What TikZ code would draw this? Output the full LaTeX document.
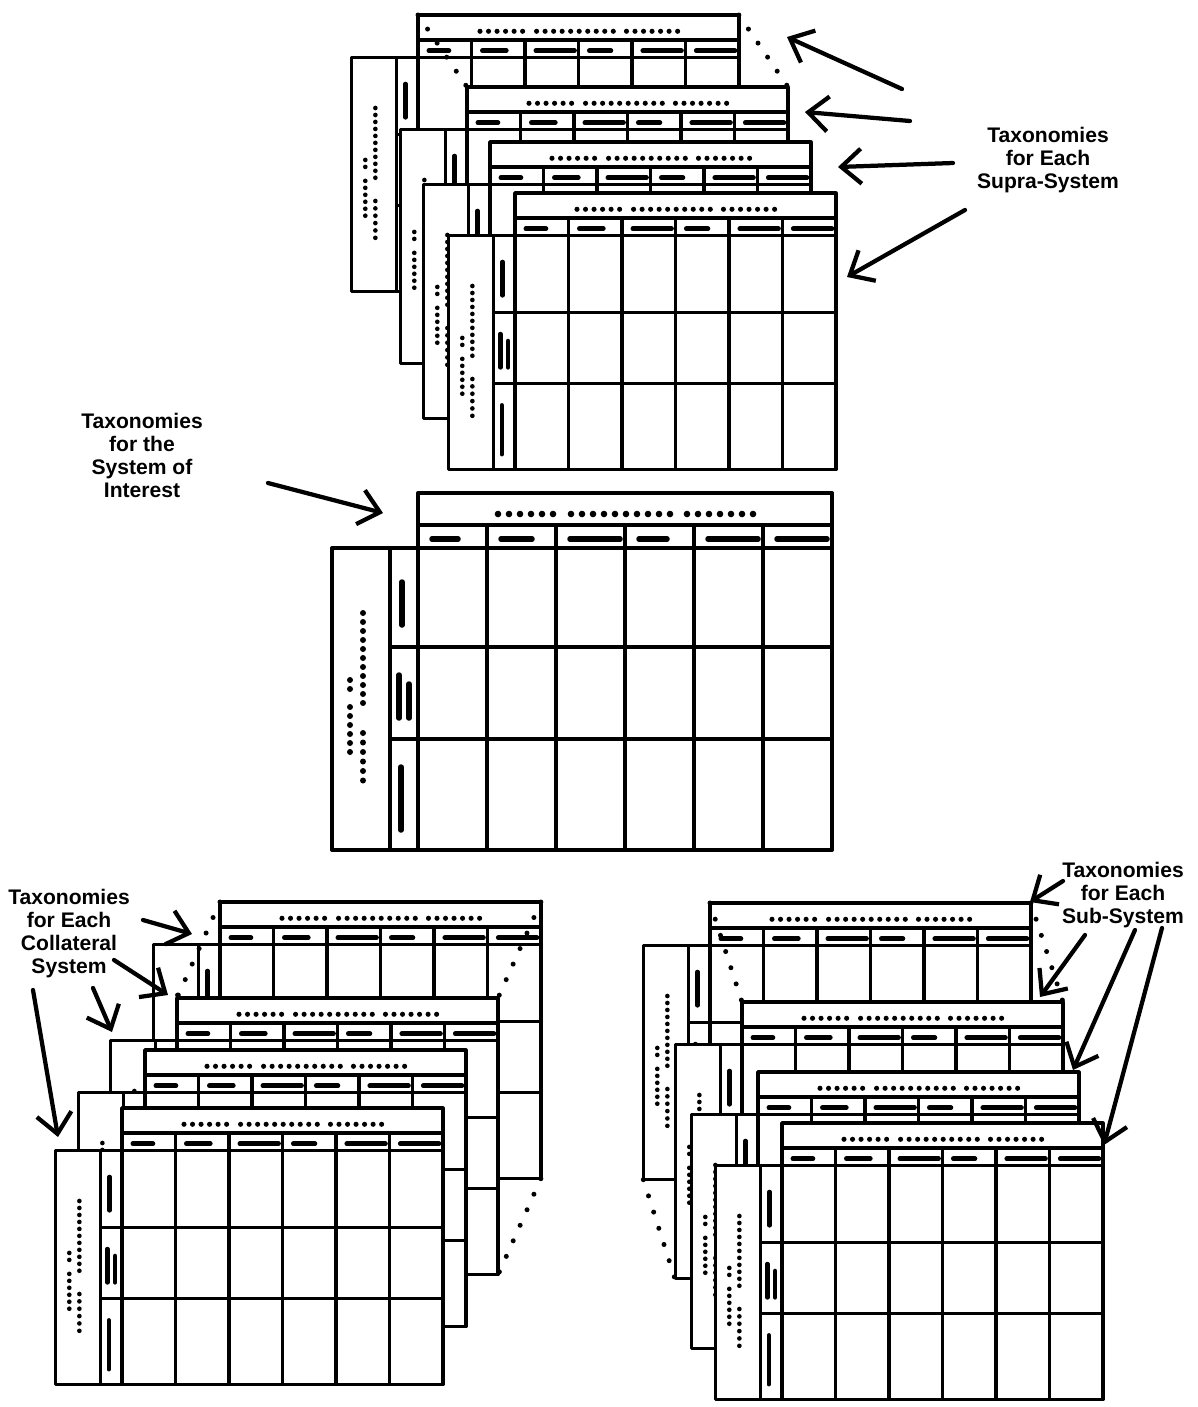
\documentclass[tikz,border=0pt]{standalone}
\usepackage{fontspec}
\usepackage{tikz}
\usetikzlibrary{arrows.meta}
\newfontfamily\taxfont{Liberation Sans}
\def\sheetsc{1}
\tikzset{
  sheetline/.style={line width=0.3mm+\sheetsc*0.5mm, black, line join=round},
  sheetfill/.style={sheetline, fill=white},
  blob/.style={line width=0.3mm+\sheetsc*0.8mm, line cap=round, black},
  ellip/.style={line width=1mm, line cap=round, dash pattern=on 0pt off 3.4mm},
  taxarrow/.style={line width=0.85mm, line cap=round,
                   -{Straight Barb[length=4mm, width=7mm]}},
  taxlabel/.style={font=\taxfont\bfseries\fontsize{12}{13.1}\selectfont,
                   align=center, inner sep=0pt},
}
% one taxonomy sheet: name, x, y (top left of the header), scale
\newcommand{\taxsheet}[4]{%
  \def\sheetsc{#4}%
  \begin{scope}[shift={(#2,#3)}, scale=#4]
    \filldraw[sheetfill] (-86,55) -- (0,55) -- (0,0) -- (414,0) -- (414,357)
      -- (-86,357) -- cycle;
    \draw[sheetline] (0,32) -- (414,32) (0,55) -- (414,55)
      (0,0) -- (0,357) (-28,55) -- (-28,357);
    \foreach \c in {1,...,5} \draw[sheetline] (69*\c,32) -- (69*\c,357);
    \foreach \r in {154,246} \draw[sheetline] (-28,\r) -- (414,\r);
    % title dots
    \foreach \d in {0,...,5} \fill (80+11*\d,21) circle[radius=3.3];
    \foreach \d in {0,...,9} \fill (153+11*\d,21) circle[radius=3.3];
    \foreach \d in {0,...,6} \fill (269+11*\d,21) circle[radius=3.3];
    % column heads
    \foreach \c/\len in {0/26,1/31,2/50,3/28,4/50,5/50}
      \draw[blob] (69*\c+14,46) -- ++(\len,0);
    % row heads
    \draw[blob] (-16,89) -- (-16,132) (-19,182) -- (-19,225)
      (-9,191) -- (-9,225) (-17,274) -- (-17,337);
    % side label dots
    \foreach \v in {187,196} \fill (-68,\v) circle[radius=3];
    \foreach \d in {0,...,5} \fill (-68,214+9*\d) circle[radius=3];
    \foreach \d in {0,...,10} \fill (-55,120+9*\d) circle[radius=3];
    \foreach \d in {0,...,5} \fill (-55,240+9.5*\d) circle[radius=3];
    \coordinate (#1-tl) at (0,0);
    \coordinate (#1-tr) at (414,0);
    \coordinate (#1-br) at (414,357);
    \coordinate (#1-bl) at (-86,357);
  \end{scope}}

\begin{document}
\begin{tikzpicture}[x=0.2mm, y=-0.2mm]
  \useasboundingbox (0,0) rectangle (1198,1407);
  \fill[white] (0,0) rectangle (1198,1407);

  % supra-systems
  \taxsheet{sup1}{418}{15}{0.775}
  \coordinate (sup2-tl) at (467,87);
  \coordinate (sup2-tr) at (788,87);
  \draw[ellip] (sup1-tl) -- (sup2-tl);
  \draw[ellip] (sup1-tr) -- (sup2-tr);
  \taxsheet{sup2}{467}{87}{0.775}
  \taxsheet{sup3}{490}{142}{0.775}
  \taxsheet{sup4}{515}{193}{0.775}

  % system of interest
  \taxsheet{soi}{418}{493}{1}

  % collateral systems
  \taxsheet{col1}{220}{902}{0.775}
  \coordinate (col2-tl) at (177,998);
  \coordinate (col2-tr) at (498,998);
  \coordinate (col2-br) at (498,1275);
  \draw[ellip] (col1-tl) -- (col2-tl);
  \draw[ellip] (col1-tr) -- (col2-tr);
  \draw[ellip] (col1-br) -- (col2-br);
  \taxsheet{col2}{177}{998}{0.775}
  \taxsheet{col3}{145}{1050}{0.775}
  \taxsheet{col4}{122}{1108}{0.775}

  % sub-systems
  \taxsheet{sub1}{710}{903}{0.775}
  \coordinate (sub2-tl) at (742,1002);
  \coordinate (sub2-tr) at (1063,1002);
  \coordinate (sub2-bl) at (675,1279);
  \draw[ellip] (sub1-tl) -- (sub2-tl);
  \draw[ellip] (sub1-tr) -- (sub2-tr);
  \draw[ellip] (sub1-bl) -- (sub2-bl);
  \taxsheet{sub2}{742}{1002}{0.775}
  \taxsheet{sub3}{758}{1072}{0.775}
  \taxsheet{sub4}{782}{1123}{0.775}

  % labels
  \node[taxlabel] (supralbl) at (1048,160) {Taxonomies\\for Each\\Supra-System};
  \node[taxlabel] (soilbl) at (142,455) {Taxonomies\\for the\\System of\\Interest};
  \node[taxlabel] (colllbl) at (69,934) {Taxonomies\\for Each\\Collateral\\System};
  \node[taxlabel] (sublbl) at (1123,895) {Taxonomies\\for Each\\Sub-System};

  % arrows
  \coordinate (supA1) at (902,89);  \coordinate (supH1) at (787,37);
  \coordinate (supA2) at (910,121); \coordinate (supH2) at (805,112);
  \coordinate (supA3) at (953,163); \coordinate (supH3) at (838,167);
  \coordinate (supA4) at (965,210); \coordinate (supH4) at (847,277);
  \foreach \k in {1,...,4} \draw[taxarrow] (supA\k) -- (supH\k);

  \coordinate (soiA) at (268,483);  \coordinate (soiH) at (383,513);
  \draw[taxarrow] (soiA) -- (soiH);

  \coordinate (colA1) at (143,920); \coordinate (colH1) at (192,934);
  \coordinate (colA2) at (114,960); \coordinate (colH2) at (168,995);
  \coordinate (colA3) at (93,988);  \coordinate (colH3) at (112,1032);
  \coordinate (colA4) at (33,990);  \coordinate (colH4) at (58,1137);
  \foreach \k in {1,...,4} \draw[taxarrow] (colA\k) -- (colH\k);

  \coordinate (subA1) at (1063,881); \coordinate (subH1) at (1030,902);
  \coordinate (subA2) at (1085,935); \coordinate (subH2) at (1040,997);
  \coordinate (subA3) at (1135,930); \coordinate (subH3) at (1073,1070);
  \coordinate (subA4) at (1162,928); \coordinate (subH4) at (1104,1145);
  \foreach \k in {1,...,4} \draw[taxarrow] (subA\k) -- (subH\k);
\end{tikzpicture}
\end{document}
